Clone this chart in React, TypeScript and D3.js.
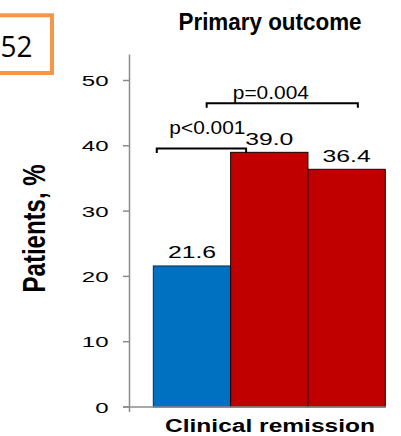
import React from "react";
import * as d3 from "d3";

// ---- data ----
const category = "Clinical remission";
const seriesNames = ["Group 1", "Group 2", "Group 3"];
const seriesValues = [21.6, 39.0, 36.4];
const yTicks = [0, 10, 20, 30, 40, 50];
const yAxisMax = 54;
const titleText = "Primary outcome";
const yLabelText = "Patients, %";
const slideNumber = "52";
// significance brackets: bar index + fraction within the bar, level in data units
const bracketLabels = ["p<0.001", "p=0.004"];
const bracketFrom = [[0, 0.045], [0, 0.69]];
const bracketTo = [[1, 0.2], [2, 0.645]];
const bracketLevel = [39.6, 46.5];
const bracketTextPos = [[0, 0.7], [1, 0.52]];
const bracketTextLevel = [41.8, 47.1];

const FONT = "'Liberation Sans', Arial, Helvetica, sans-serif";
const colors = ["#0070C0", "#C00000", "#C00000"];

export default function App() {
  const W = 401, H = 436;
  const x = d3.scaleBand<string>().domain(seriesNames).range([153.3, 385.3]).padding(0);
  const y = d3.scaleLinear().domain([0, 50]).range([407, 80.5]);
  const bw = x.bandwidth();
  const axisX = 129.5;
  const axisColor = "#8c8c8c";
  const px = (b: number[]) => (x(seriesNames[b[0]]) as number) + b[1] * bw;

  return (
    <svg width={W} height={H} style={{ position: "absolute", left: 0, top: 0, background: "#fff" }}>
      <rect x={0} y={0} width={W} height={H} fill="#fff" />
      {/* slide number box */}
      <rect x={-10} y={15.3} width={62} height={57.7} fill="none" stroke="#F79646" strokeWidth={4} />
      <g transform="translate(0.5,56.7) scale(0.93,1)">
        <text x={0} y={0} fontFamily="'Open Sans', 'Noto Sans', sans-serif" fontSize={30} fill="#000">{slideNumber}</text>
      </g>

      {/* title */}
      <g transform={`translate(270,30) scale(0.915,1)`}>
        <text textAnchor="middle" fontFamily={FONT} fontWeight="bold" fontSize={24.5} fill="#000">{titleText}</text>
      </g>

      {/* y label */}
      <g transform={`translate(44.5,228.4) scale(1.27,1) rotate(-90)`}>
        <text textAnchor="middle" fontFamily={FONT} fontWeight="bold" fontSize={24} fill="#000">{yLabelText}</text>
      </g>

      {/* bars */}
      {seriesNames.map((s, i) => (
        <rect key={s} x={x(s)} y={y(seriesValues[i])} width={bw} height={y(0) - y(seriesValues[i])}
          fill={colors[i]} stroke={i === 0 ? "#0b2e55" : "#1a0000"} strokeWidth={1} />
      ))}

      {/* axes */}
      <line x1={axisX} x2={axisX} y1={y(yAxisMax)} y2={y(0) + 5} stroke={axisColor} strokeWidth={1.5} />
      <line x1={123} x2={386} y1={y(0)} y2={y(0)} stroke={axisColor} strokeWidth={1.5} />
      {yTicks.map((t) => (
        <g key={t}>
          <line x1={123} x2={axisX} y1={y(t)} y2={y(t)} stroke={axisColor} strokeWidth={1.5} />
          <g transform={`translate(108.5,${y(t) + 5.5}) scale(1.55,1)`}>
            <text textAnchor="end" fontFamily={FONT} fontSize={15.5} fill="#000">{t}</text>
          </g>
        </g>
      ))}

      {/* value labels */}
      {seriesNames.map((s, i) => (
        <g key={s} transform={`translate(${(x(s) as number) + bw / 2},${y(seriesValues[i]) - 7.5}) scale(1.5,1)`}>
          <text textAnchor="middle" fontFamily={FONT} fontSize={16.5} fill="#000">{seriesValues[i].toFixed(1)}</text>
        </g>
      ))}

      {/* brackets */}
      {bracketLabels.map((lab, i) => {
        const x1 = px(bracketFrom[i]);
        const x2 = px(bracketTo[i]);
        const yy = y(bracketLevel[i]);
        return (
          <g key={lab}>
            <path d={`M${x1},${yy + 4.5}V${yy}H${x2}V${yy + 4.5}`} fill="none" stroke="#000" strokeWidth={2} />
            <g transform={`translate(${px(bracketTextPos[i])},${y(bracketTextLevel[i])}) scale(1.1,1)`}>
              <text textAnchor="middle" fontFamily={FONT} fontSize={19} fill="#000">{lab}</text>
            </g>
          </g>
        );
      })}

      {/* category label */}
      <g transform={`translate(270,432) scale(1.32,1)`}>
        <text textAnchor="middle" fontFamily={FONT} fontWeight="bold" fontSize={18.6} fill="#000">{category}</text>
      </g>
    </svg>
  );
}
